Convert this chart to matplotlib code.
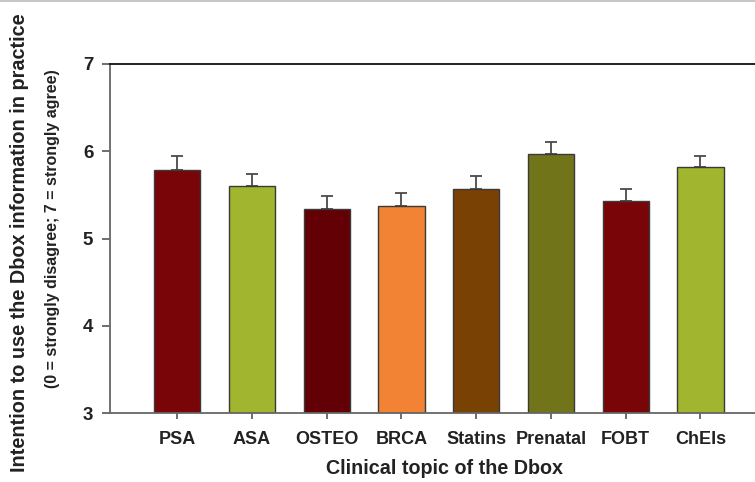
import numpy as np
import matplotlib.pyplot as plt
from matplotlib.lines import Line2D

plt.rcParams['font.family'] = ['Liberation Sans', 'DejaVu Sans']
plt.rcParams['font.weight'] = 'bold'

topics = ['PSA', 'ASA', 'OSTEO', 'BRCA', 'Statins', 'Prenatal', 'FOBT', 'ChEIs']
means = [5.78, 5.60, 5.34, 5.37, 5.57, 5.97, 5.43, 5.82]
errors = [0.16, 0.14, 0.15, 0.15, 0.15, 0.14, 0.14, 0.13]
colors = ['#7a0508', '#a2b52e', '#620006', '#f28334', '#7a4104', '#717418', '#7a0508', '#a2b52e']

fig = plt.figure(figsize=(7.55, 4.82), dpi=100)
ax = fig.add_axes([110 / 755, 1 - 413 / 482, 1 - 110 / 755 + 0.002, (413 - 64) / 482])

x = np.arange(len(topics))
ax.bar(x, np.array(means) - 3, bottom=3, width=0.62, color=colors,
       edgecolor='#3a3a3a', linewidth=1.0, zorder=2)
ax.errorbar(x, means, yerr=[np.zeros(len(errors)), errors], fmt='none',
            ecolor='#4a4a4a', elinewidth=1.3, capsize=4.5, capthick=1.3, zorder=1)

ax.set_xlim(-0.9, 7.75)
ax.set_ylim(3, 7)
ax.set_yticks([3, 4, 5, 6, 7])
ax.set_xticks(x)
ax.set_xticklabels(topics, fontsize=13, fontweight='bold', color='#222222')
ax.tick_params(axis='y', labelsize=13.5, colors='#555555', labelcolor='#222222',
               direction='out', length=6, width=1.2, pad=6)
ax.tick_params(axis='x', colors='#555555', labelcolor='#222222',
               direction='out', length=4, width=1.2, pad=9)

ax.spines['right'].set_visible(False)
ax.spines['top'].set_color('#111111')
ax.spines['top'].set_linewidth(1.3)
ax.spines['left'].set_color('#666666')
ax.spines['left'].set_linewidth(1.3)
ax.spines['bottom'].set_color('#666666')
ax.spines['bottom'].set_linewidth(1.3)

fig.text(445 / 755, 1 - 468 / 482, 'Clinical topic of the Dbox', ha='center', va='center',
         fontsize=14.2, fontweight='bold', color='#222222')
fig.text(20 / 755, 1 - 243 / 482, 'Intention to use the Dbox information in practice',
         rotation=90, ha='center', va='center', fontsize=14.3, fontweight='bold', color='#222222')
fig.text(53 / 755, 1 - 229 / 482, '(0 = strongly disagree; 7 = strongly agree)',
         rotation=90, ha='center', va='center', fontsize=11.5, fontweight='bold', color='#222222')

fig.add_artist(Line2D([0, 1], [0.998, 0.998], color='#c8c8c8', linewidth=1.5,
                      transform=fig.transFigure))

fig.savefig('out.png', dpi=100)
